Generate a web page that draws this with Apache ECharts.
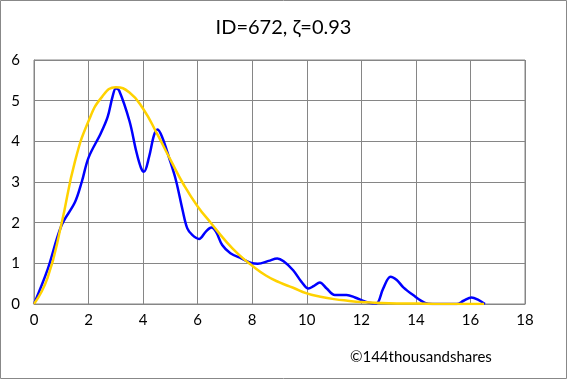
<!DOCTYPE html>
<html>
<head>
<meta charset="utf-8">
<script src="https://cdn.jsdelivr.net/npm/echarts@6/dist/echarts.min.js"></script>
<style>html,body{margin:0;padding:0;background:#fff}#c{width:567px;height:379px}</style>
</head>
<body>
<div id="c"></div>
<script>
var titleText = 'ID=672, ζ=0.93';
var creditText = '©144thousandshares';
var blueX = [0,0.5,1.0,1.5,1.75,2.0,2.45,2.7,2.88,3.0,3.12,3.5,3.75,3.92,4.03,4.22,4.4,4.53,4.7,4.95,5.2,5.45,5.62,5.8,6.05,6.3,6.5,6.67,6.9,7.2,7.6,8.0,8.2,8.6,8.92,9.15,9.5,9.8,10.06,10.25,10.48,10.73,11.03,11.46,11.77,12.13,12.4,12.56,12.8,13.07,13.3,13.54,13.9,14.33,14.6,15.5,15.75,16.04,16.29,16.53];
var blueY = [0,0.85,1.92,2.5,3.0,3.6,4.2,4.6,5.1,5.3,5.25,4.5,3.75,3.35,3.25,3.62,4.15,4.29,4.1,3.6,3.05,2.3,1.86,1.7,1.6,1.78,1.88,1.78,1.45,1.25,1.12,1.0,0.99,1.06,1.12,1.05,0.83,0.55,0.38,0.44,0.53,0.38,0.22,0.22,0.16,0.06,0.02,0.02,0.38,0.67,0.59,0.41,0.22,0.03,0,0,0.08,0.16,0.1,0];
var yellowX = [0,0.5,1,1.5,2,2.5,3,3.5,4,4.5,5,5.5,6,6.5,7,7.5,8,8.5,9,9.5,10,10.5,11,11.5,12,13,14,15,16,16.5];
var yellowY = [0,0.65,1.95,3.5,4.5,5.1,5.33,5.2,4.8,4.2,3.55,2.92,2.4,1.98,1.57,1.22,0.94,0.7,0.53,0.4,0.26,0.18,0.12,0.08,0.05,0.02,0.01,0,0,0];
var xTicks = {min:0, max:18, interval:2};
var yTicks = {min:0, max:6, interval:1};

function zip(a,b){return a.map(function(v,i){return [v,b[i]];});}
var chart = echarts.init(document.getElementById('c'), null, {renderer:'canvas'});
var F = 'Lato, "Open Sans", sans-serif';
chart.setOption({
  animation:false,
  backgroundColor:'#fff',
  title:{text:titleText,left:'center',top:13,textStyle:{fontFamily:F,fontSize:20,fontWeight:'normal',color:'#000'}},
  graphic:[
    {type:'rect',shape:{x:0.5,y:0.5,width:566,height:378},style:{fill:'none',stroke:'#888',lineWidth:1},silent:true},
    {type:'text',left:350,top:350,style:{text:creditText,fontFamily:F,fontSize:15,fill:'#000'}}
  ],
  grid:{left:34,right:42,top:60,bottom:75,show:true,borderColor:'#868686',borderWidth:1},
  xAxis:{type:'value',min:xTicks.min,max:xTicks.max,interval:xTicks.interval,
    axisLine:{show:true,lineStyle:{color:'#868686'}},axisTick:{show:false},
    axisLabel:{fontFamily:F,fontSize:15,color:'#000',margin:9},
    splitLine:{show:true,lineStyle:{color:'#868686',width:1}}},
  yAxis:{type:'value',min:yTicks.min,max:yTicks.max,interval:yTicks.interval,
    axisLine:{show:true,lineStyle:{color:'#868686'}},axisTick:{show:false},
    axisLabel:{fontFamily:F,fontSize:15,color:'#000',margin:14},
    splitLine:{show:true,lineStyle:{color:'#868686',width:1}}},
  series:[
    {type:'line',data:zip(blueX,blueY),smooth:0.35,showSymbol:false,
     lineStyle:{color:'#0000FF',width:2.5},z:2},
    {type:'line',data:zip(yellowX,yellowY),smooth:0.5,showSymbol:false,
     lineStyle:{color:'#FFD200',width:2.5},z:3}
  ]
});
</script>
</body>
</html>
